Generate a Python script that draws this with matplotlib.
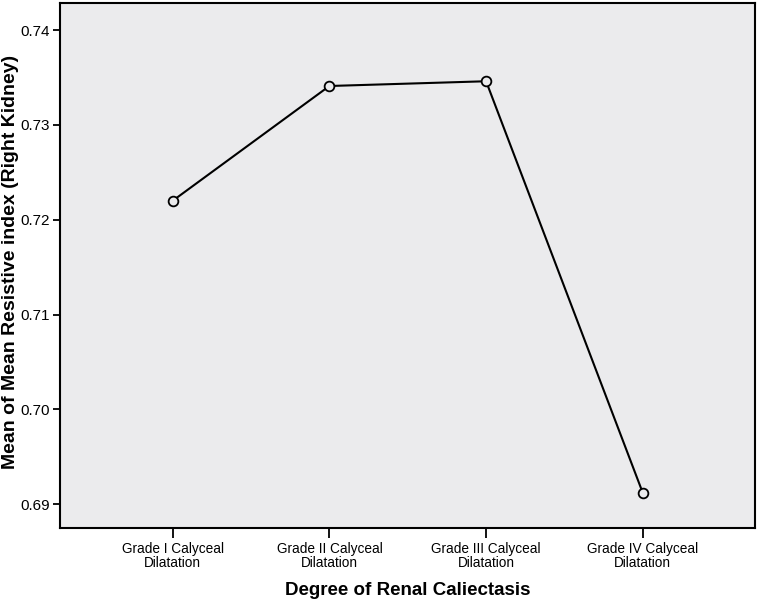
import matplotlib
matplotlib.use("Agg")
import matplotlib.pyplot as plt

categories = ["Grade I Calyceal\nDilatation", "Grade II Calyceal\nDilatation",
              "Grade III Calyceal\nDilatation", "Grade IV Calyceal\nDilatation"]
values = [0.7220, 0.7341, 0.7346, 0.6912]
yticks = [0.69, 0.70, 0.71, 0.72, 0.73, 0.74]
ytick_labels = ["0.69", "0.70", "0.71", "0.72", "0.73", "0.74"]

plt.rcParams['font.family'] = ['Liberation Sans', 'DejaVu Sans']

bg = '#ebebed'
fig = plt.figure(figsize=(7.58, 6.04), dpi=100)
ax = fig.add_axes([60/758, 76/604, 695/758, 525/604])
ax.set_facecolor(bg)

x = list(range(len(categories)))
ax.plot(x, values, color='black', linewidth=1.5, marker='o', markersize=7,
        markerfacecolor=bg, markeredgecolor='black', markeredgewidth=1.3)

ax.set_xlim(-0.719, 3.716)
ax.set_ylim(0.6875, 0.74285)
ax.set_xticks(x)
ax.set_xticklabels(categories, fontsize=9.8, linespacing=1.05)
ax.set_yticks(yticks)
ax.set_yticklabels(ytick_labels, fontsize=11)
ax.tick_params(axis='x', length=7, width=1.3, color='black', pad=3)
ax.tick_params(axis='y', length=5, width=1.3, color='black', pad=2)
for s in ax.spines.values():
    s.set_linewidth(1.5)
    s.set_color('black')

ax.set_xlabel("Degree of Renal Caliectasis", fontsize=13.5, fontweight='bold', va='top')
ax.xaxis.set_label_coords(0.5, (528 - 582) / 525)
ax.set_ylabel("Mean of Mean Resistive index (Right Kidney)", fontsize=14, fontweight='bold', va='center')
ax.yaxis.set_label_coords((11 - 60) / 695, (528 - 262) / 525)

fig.savefig("out.png", dpi=100, facecolor='white')
